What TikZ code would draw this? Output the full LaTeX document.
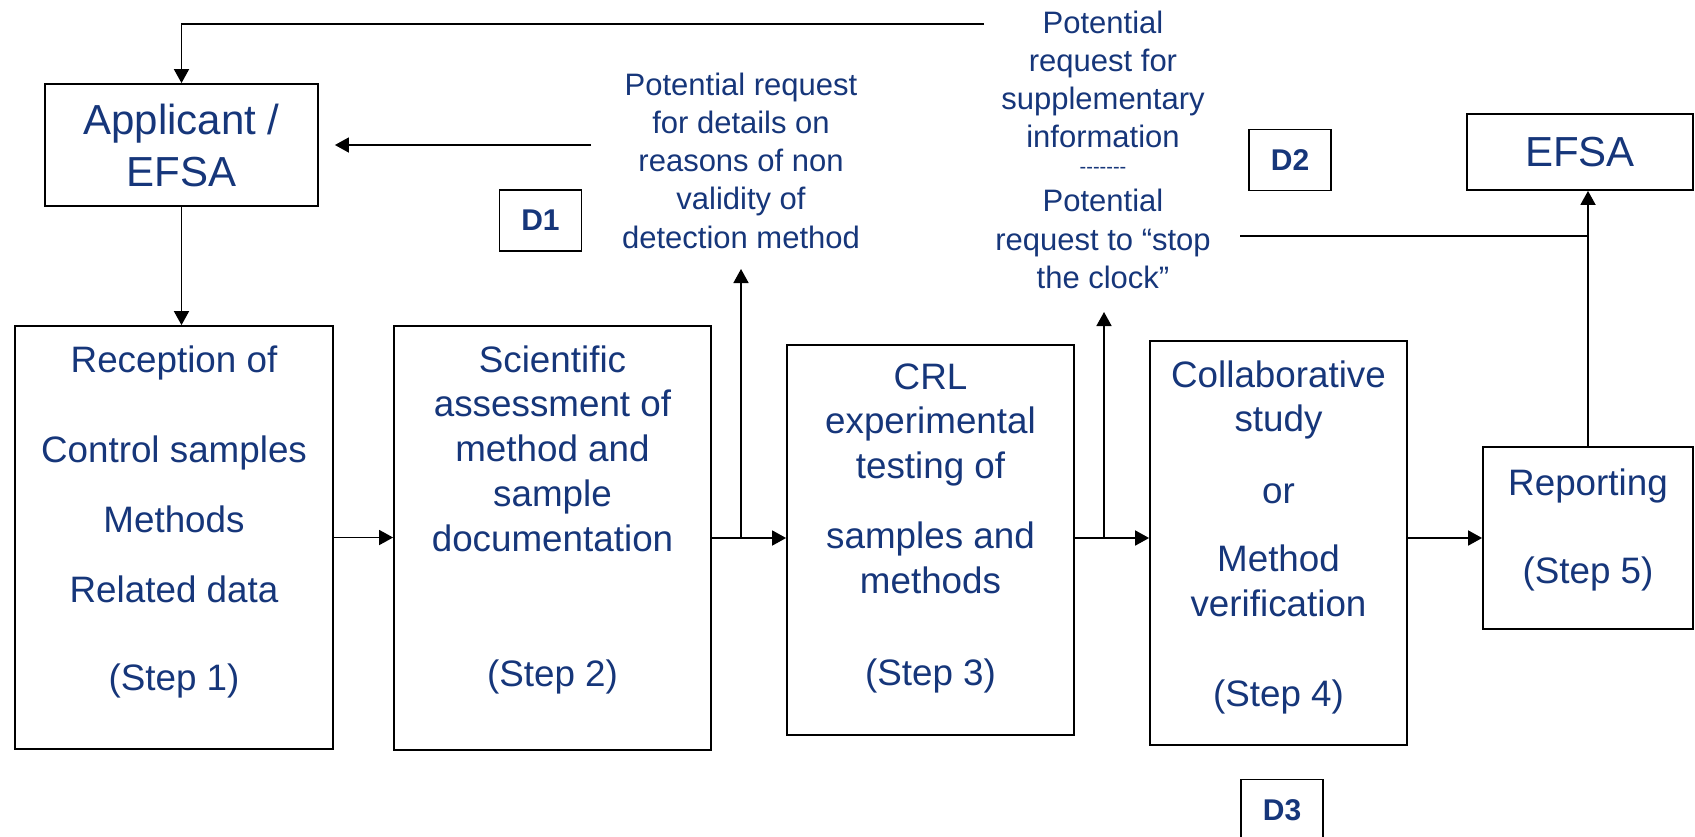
\documentclass[tikz,border=0pt]{standalone}
\usepackage{fontspec}
\setmainfont{Liberation Sans}
\usepackage{tikz}
\usetikzlibrary{positioning}
\usetikzlibrary{arrows.meta}
\definecolor{navy}{RGB}{22,54,122}
\tikzstyle{stepbox} = [rectangle, draw, line width=0.9pt, inner sep=0pt]
\tikzstyle{steptext} = [align=center, inner sep=0pt, anchor=north, text=navy,
    font=\fontsize{18.4}{22.4}\selectfont]
\tikzstyle{reqtext} = [align=center, inner sep=0pt, anchor=north, text=navy,
    font=\fontsize{15.5}{19.1}\selectfont]
\tikzstyle{dbox} = [rectangle, draw, line width=0.9pt, text=navy,
    minimum width=41pt, minimum height=30.5pt, font=\fontsize{15}{18}\selectfont\bfseries]
\tikzstyle{line} = [draw, line width=0.85pt, -{Triangle[length=7pt,width=7.5pt]}]

\begin{document}
\begin{tikzpicture}[x=0.5pt, y=-0.5pt]
  \useasboundingbox (0,0) rectangle (1695,836);

  \node [stepbox, text=navy, align=center, minimum width=136.5pt, minimum height=61pt,
    font=\fontsize{21}{26}\selectfont] (appl) at (181.5,145) {Applicant /\\EFSA};
  \node [stepbox, text=navy, minimum width=113pt, minimum height=38pt,
    font=\fontsize{21}{26}\selectfont] (efsa) at (1580,152) {EFSA};

  \node [stepbox, minimum width=159pt, minimum height=211.5pt] (recep) at (174,537.5) {};
  \node [stepbox, minimum width=158.5pt, minimum height=212pt] (sci) at (552.5,538) {};
  \node [stepbox, minimum width=143.5pt, minimum height=195pt] (crl) at (930.5,540) {};
  \node [stepbox, minimum width=128.5pt, minimum height=202pt] (collab) at (1278.5,543) {};
  \node [stepbox, minimum width=105pt, minimum height=91pt] (report) at (1588,538) {};

  \node [steptext] (recep-txt) at (174,345)
    {Reception of\\[22.8pt]Control samples\\[12.5pt]Methods\\[12.5pt]Related data\\[22pt](Step 1)};
  \node [steptext] (sci-txt) at (552.5,345)
    {Scientific\\assessment of\\method and\\sample\\documentation\\[45pt](Step 2)};
  \node [steptext] (crl-txt) at (930.5,363)
    {CRL\\experimental\\testing of\\[12.5pt]samples and\\methods\\[23.6pt](Step 3)};
  \node [steptext] (collab-txt) at (1278.5,360)
    {Collaborative\\study\\[13.4pt]or\\[11.7pt]Method\\verification\\[22.8pt](Step 4)};
  \node [steptext] (report-txt) at (1588,468) {Reporting\\[22pt](Step 5)};

  \node [reqtext] (reasons) at (741,72.4)
    {Potential request\\for details on\\reasons of non\\validity of\\detection method};
  \node [reqtext] (suppl) at (1103,10.4)
    {Potential\\request for\\supplementary\\information\\[-6.2pt]{\fontsize{10}{12}\selectfont -{}-{}-{}-{}-{}-{}-}\\Potential\\request to “stop\\the clock”};

  \node [dbox] (d1) at (540.5,220.5) {D1};
  \node [dbox] (d2) at (1290,160) {D2};
  \node [dbox] (d3) at (1282,810) {D3};

  \coordinate (req1) at (591,145);
  \coordinate (req1bot) at (741,269);
  \coordinate (req2a) at (984,24);
  \coordinate (req2b) at (1240,236);
  \coordinate (req2bot) at (1104,312);

  \path [line] (req2a) -| (appl.north);
  \path [line] (req1) -- ([xshift=8pt]appl.east);
  \path [line] (appl.south) -- (appl.south |- recep.north);

  \path [line] (recep.east) -- (sci.west |- recep.east);
  \path [line] (sci.east) -- (crl.west |- sci.east);
  \path [line] (crl.east |- sci.east) -- (collab.west |- sci.east);
  \path [line] (collab.east |- sci.east) -- (report.west);

  \path [line] (req1bot |- sci.east) -- (req1bot);
  \path [line] (req2bot |- sci.east) -- (req2bot);

  \draw [line width=0.85pt] (req2b) -- (req2b -| report.north);
  \path [line] (report.north) -- (report.north |- efsa.south);
\end{tikzpicture}
\end{document}
